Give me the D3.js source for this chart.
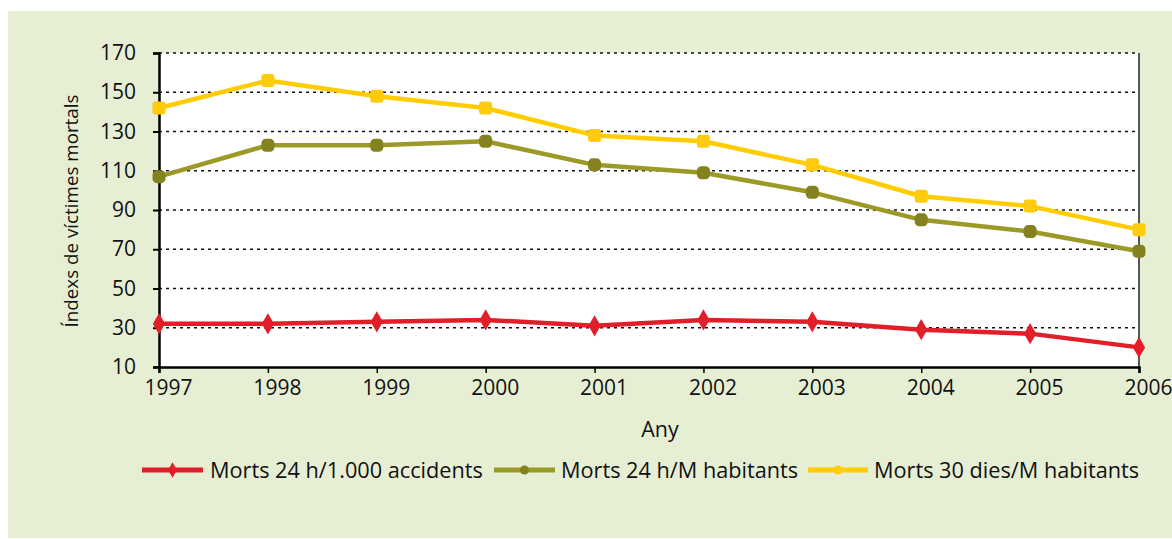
<!DOCTYPE html>
<html><head><meta charset="utf-8">
<script src="https://cdn.jsdelivr.net/npm/d3@7"></script>
<style>
body{margin:0;background:#fff;}
text{font-family:"Open Sans",sans-serif;fill:#111;}
</style></head>
<body><svg id="c" width="1172" height="539"></svg>
<script>
const years = [1997,1998,1999,2000,2001,2002,2003,2004,2005,2006];
const seriesNames = ["Morts 24 h/1.000 accidents","Morts 24 h/M habitants","Morts 30 dies/M habitants"];
const accidents24h = [32,32,33,34,31,34,33,29,27,20];
const habitants24h = [107,123,123,125,113,109,99,85,79,69];
const habitants30d = [142,156,148,142,128,125,113,97,92,80];
const yTicks = [10,30,50,70,90,110,130,150,170];

const colors = ["#e21f29","#9b9a27","#ffcc00"];
const markerColors = ["#e21f29","#84821f","#ffcb0c"];
const series = [accidents24h, habitants24h, habitants30d];

const svg = d3.select("#c");
svg.append("rect").attr("x",8).attr("y",11).attr("width",1164).attr("height",527).attr("fill","#e6efd4");

const L=159, R=1139, T=53, B=367;
const x = d3.scalePoint().domain(years).range([L,R]);
const y = d3.scaleLinear().domain([10,170]).range([B,T]);

svg.append("rect").attr("x",L).attr("y",T).attr("width",R-L).attr("height",B-T).attr("fill","#fff");

// grid
svg.append("g").selectAll("line").data(yTicks.filter(d=>d>10)).join("line")
  .attr("x1",L).attr("x2",R).attr("y1",d=>y(d)).attr("y2",d=>y(d))
  .attr("stroke","#111").attr("stroke-width",1.6).attr("stroke-dasharray","3,4");
// right border
svg.append("line").attr("x1",R).attr("x2",R).attr("y1",T).attr("y2",B).attr("stroke","#222").attr("stroke-width",1.5);

// y axis
const ya = svg.append("g").attr("transform",`translate(${L},0)`)
  .call(d3.axisLeft(y).tickValues(yTicks).tickSize(6).tickPadding(17));
ya.select(".domain").attr("stroke","#000").attr("stroke-width",2.5);
ya.selectAll(".tick line").attr("stroke","#000").attr("stroke-width",2);
ya.selectAll(".tick text").style("font-family","Open Sans").style("font-size","21px").attr("fill","#111");

// x axis
const xa = svg.append("g").attr("transform",`translate(0,${B})`)
  .call(d3.axisBottom(x).tickSize(6).tickPadding(7));
xa.select(".domain").attr("stroke","#000").attr("stroke-width",2.5);
xa.selectAll(".tick line").attr("stroke","#000").attr("stroke-width",1.5);
xa.selectAll(".tick text").style("font-family","Open Sans").style("font-size","21px").attr("fill","#111").attr("dx",9);

// titles
svg.append("text").attr("x",660).attr("y",437).attr("text-anchor","middle").style("font-size","21.5px").text("Any");
svg.append("text").attr("transform","translate(78,211) rotate(-90)").attr("text-anchor","middle").style("font-size","18.8px").text("Índexs de víctimes mortals");

const line = d3.line().x((d,i)=>x(years[i])).y(d=>y(d));
const diamond = d3.symbol().type(d3.symbolDiamond).size(130);

series.forEach((s,k)=>{
  svg.append("path").datum(s).attr("d",line).attr("fill","none").attr("stroke",colors[k]).attr("stroke-width",4.5).attr("stroke-linejoin","round");
  const g = svg.append("g");
  s.forEach((v,i)=>{
    const cx=x(years[i]), cy=y(v);
    if(k===0){
      g.append("path").attr("d",diamond).attr("transform",`translate(${cx},${cy})`).attr("fill",markerColors[k]);
    } else {
      g.append("rect").attr("x",cx-6.5).attr("y",cy-6.5).attr("width",13).attr("height",13).attr("rx",k===1?4.5:3).attr("fill",markerColors[k]);
    }
  });
});

// legend
const legendItems = [{x0:142,x1:203,tx:210},{x0:494,x1:555,tx:561},{x0:808,x1:868,tx:874}];
const ly = 470;
legendItems.forEach((it,k)=>{
  svg.append("line").attr("x1",it.x0).attr("x2",it.x1).attr("y1",ly).attr("y2",ly).attr("stroke",colors[k]).attr("stroke-width",5);
  const cx=(it.x0+it.x1)/2;
  if(k===0) svg.append("path").attr("d",d3.symbol().type(d3.symbolDiamond).size(70)).attr("transform",`translate(${cx},${ly})`).attr("fill",markerColors[k]);
  else svg.append("circle").attr("cx",cx).attr("cy",ly).attr("r",4.5).attr("fill",markerColors[k]);
  svg.append("text").attr("x",it.tx).attr("y",ly+7.5).style("font-size","21.7px").text(seriesNames[k]);
});
</script></body></html>
